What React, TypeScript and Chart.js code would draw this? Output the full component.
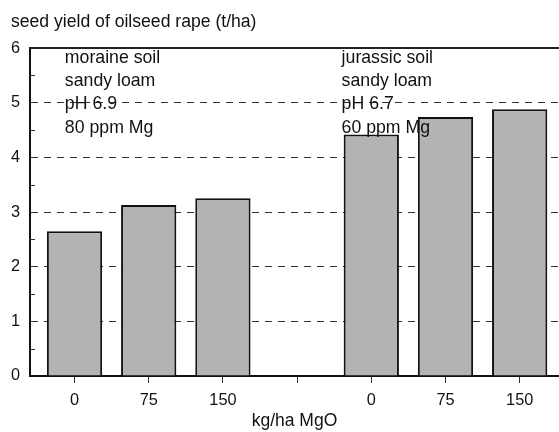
import React, { useEffect, useRef } from 'react';
import { Chart, registerables } from 'chart.js';

Chart.register(...registerables);

const xLabels = ['0', '75', '150', '', '0', '75', '150'];
const barPositions = [0, 1, 2, 4, 5, 6];
const yields = [2.65, 3.13, 3.25, 4.42, 4.74, 4.88];
const minorTicks = [0.5, 1.5, 2.5, 3.5, 4.5, 5.5];
const leftNote = ['moraine soil', 'sandy loam', 'pH 6.9', '80 ppm Mg'];
const rightNote = ['jurassic soil', 'sandy loam', 'pH 6.7', '60 ppm Mg'];
const noteAnchors = [
  { x: -0.13, y: 5.82 },
  { x: 3.6, y: 5.82 },
];

const FONT = 'Arial, "Liberation Sans", Helvetica, sans-serif';

export default function App() {
  const ref = useRef<HTMLCanvasElement | null>(null);

  useEffect(() => {
    if (!ref.current) return;

    const decorations = {
      id: 'decorations',
      afterDraw(chart: any) {
        const { ctx, chartArea, scales } = chart;
        const xs = scales.x;
        const ys = scales.y;
        ctx.save();
        // top solid border
        ctx.strokeStyle = '#222';
        ctx.lineWidth = 2;
        ctx.beginPath();
        ctx.moveTo(chartArea.left, ys.getPixelForValue(6));
        ctx.lineTo(chartArea.right, ys.getPixelForValue(6));
        ctx.stroke();
        // minor ticks inside
        ctx.lineWidth = 1;
        ctx.strokeStyle = '#333';
        minorTicks.forEach((v) => {
          const y = Math.round(ys.getPixelForValue(v)) + 0.5;
          ctx.beginPath();
          ctx.moveTo(chartArea.left, y);
          ctx.lineTo(chartArea.left + 5, y);
          ctx.stroke();
        });
        // annotations
        ctx.fillStyle = '#111';
        ctx.font = `17.7px ${FONT}`;
        ctx.textBaseline = 'middle';
        ctx.textAlign = 'left';
        [leftNote, rightNote].forEach((lines, k) => {
          const a = noteAnchors[k];
          const x0 = xs.getPixelForValue(a.x);
          const y0 = ys.getPixelForValue(a.y);
          lines.forEach((t, i) => ctx.fillText(t, x0, y0 + i * 23.3));
        });
        ctx.restore();
      },
    };

    const chart = new Chart(ref.current, {
      type: 'bar',
      data: {
        datasets: [
          {
            data: barPositions.map((p, i) => ({ x: p, y: yields[i] })),
            backgroundColor: '#b3b3b3',
            borderColor: '#111',
            borderWidth: 2,
            categoryPercentage: 1,
            barPercentage: 0.745,
          },
        ],
      },
      options: {
        animation: false,
        responsive: false,
        layout: { padding: { left: 11, right: 0, top: 0, bottom: 0 } },
        plugins: {
          legend: { display: false },
          tooltip: { enabled: false },
          title: {
            display: true,
            text: 'seed yield of oilseed rape (t/ha)',
            align: 'start',
            color: '#111',
            font: { family: FONT, size: 17.6, weight: 'normal' },
            padding: { top: 12, bottom: 14.9 },
          },
        },
        scales: {
          x: {
            type: 'linear',
            min: -0.6,
            max: 6.53,
            offset: false,
            afterBuildTicks: (axis: any) => {
              axis.ticks = xLabels.map((_, i) => ({ value: i }));
            },
            afterFit: (axis: any) => {
              axis.height = 56;
            },
            grid: {
              offset: false,
              drawOnChartArea: false,
              drawTicks: true,
              tickLength: 7,
              tickColor: '#333',
              tickWidth: 1,
            },
            border: { display: true, color: '#111', width: 2 },
            ticks: {
              autoSkip: false,
              maxRotation: 0,
              padding: 8,
              color: '#111',
              font: { family: FONT, size: 16.3 },
              callback: (v: any) => xLabels[v] ?? '',
            },
            title: {
              display: true,
              text: 'kg/ha MgO',
              color: '#111',
              font: { family: FONT, size: 17.5 },
              padding: { top: 0, bottom: 0 },
            },
          },
          y: {
            min: 0,
            max: 6,
            afterFit: (axis: any) => {
              axis.width = 19;
            },
            grid: {
              drawTicks: false,
              color: (c: any) =>
                c.tick && (c.tick.value === 0 || c.tick.value === 6) ? 'rgba(0,0,0,0)' : '#333',
              lineWidth: 1,
            },
            border: { display: true, color: '#111', width: 2, dash: [7, 6] },
            ticks: {
              stepSize: 1,
              padding: 10,
              color: '#111',
              font: { family: FONT, size: 16.3 },
            },
          },
        },
      },
      plugins: [decorations],
    });

    return () => chart.destroy();
  }, []);

  return (
    <div style={{ position: 'absolute', left: 0, top: 0, width: 559, height: 432, background: '#fff' }}>
      <canvas ref={ref} width={559} height={432} />
    </div>
  );
}
